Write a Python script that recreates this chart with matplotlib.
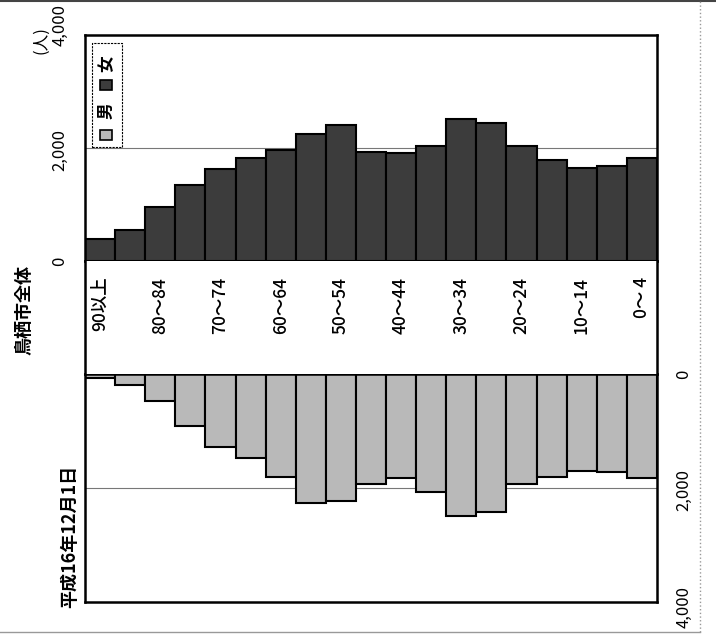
import matplotlib
matplotlib.use("Agg")
import matplotlib.pyplot as plt
from matplotlib.patches import Rectangle
from matplotlib.lines import Line2D
import numpy as np

plt.rcParams['font.family'] = ['Noto Sans CJK JP', 'DejaVu Sans']

# age groups, oldest first (left to right in the picture)
ages = ['90以上', '85～89', '80～84', '75～79', '70～74', '65～69', '60～64',
        '55～59', '50～54', '45～49', '40～44', '35～39', '30～34', '25～29',
        '20～24', '15～19', '10～14', '5～ 9', '0～ 4']
shown = ['90以上', '80～84', '70～74', '60～64', '50～54', '40～44',
         '30～34', '20～24', '10～14', '0～ 4']
female = [390, 550, 960, 1345, 1630, 1825, 1965, 2250, 2405, 1930, 1910,
          2035, 2510, 2440, 2035, 1790, 1645, 1680, 1825]
male = [70, 195, 480, 920, 1275, 1470, 1805, 2265, 2230, 1930, 1825,
        2070, 2495, 2425, 1930, 1805, 1700, 1715, 1825]
ticks = [0, 2000, 4000]
tick_labels = ['0', '2,000', '4,000']

W, H = 716, 638
fig = plt.figure(figsize=(W / 100, H / 100), dpi=100)

def box(l, t, r, b):
    return [l / W, 1 - b / H, (r - l) / W, (b - t) / H]

def ftext(px, py, s, **kw):
    fig.text(px / W, 1 - py / H, s, rotation=90, ha='center', va='center', **kw)

x = np.arange(len(ages))
dark = '#3c3c3c'
light = '#b9b9b9'

# women (top)
ax_f = fig.add_axes(box(85, 35, 657, 261))
ax_f.axhline(2000, color='#777777', lw=0.8, zorder=0)
ax_f.bar(x, female, width=1.0, color=dark, edgecolor='black', lw=1.5, zorder=2)
ax_f.set_xlim(-0.5, len(ages) - 0.5)
ax_f.set_ylim(0, 4000)
ax_f.set_xticks([])
ax_f.set_yticks([])
for s in ax_f.spines.values():
    s.set_linewidth(1.8)

# men (bottom)
ax_m = fig.add_axes(box(85, 374, 657, 602))
ax_m.axhline(2000, color='#777777', lw=0.8, zorder=0)
ax_m.bar(x, male, width=1.0, color=light, edgecolor='black', lw=1.5, zorder=2)
ax_m.set_xlim(-0.5, len(ages) - 0.5)
ax_m.set_ylim(4000, 0)
ax_m.set_xticks([])
ax_m.set_yticks([])
for s in ax_m.spines.values():
    s.set_linewidth(1.8)

# value labels, placed by hand like the original scan
for py, lab in zip([261, 150, 25], tick_labels):
    ftext(60, py, lab, fontsize=12)
for py, lab in zip([374, 490, 607], tick_labels):
    ftext(684, py, lab, fontsize=12)

# age labels band
ax_a = fig.add_axes(box(85, 261, 657, 374))
ax_a.set_xlim(-0.5, len(ages) - 0.5)
ax_a.set_ylim(0, 1)
ax_a.set_xticks([])
ax_a.set_yticks([])
for s in ['top', 'bottom']:
    ax_a.spines[s].set_visible(False)
for s in ['left', 'right']:
    ax_a.spines[s].set_linewidth(1.8)
for i, a in enumerate(ages):
    if a in shown:
        ax_a.text(i, 0.86, a, rotation=90, ha='center', va='top', fontsize=12.5,
                  fontweight='medium')

# titles
ftext(24, 310, '鳥栖市全体', fontsize=13, fontweight='bold')
ftext(70, 536, '平成16年12月1日', fontsize=13, fontweight='bold')
ftext(41, 40, '(人)', fontsize=12)

# legend, drawn rotated like the rest of the chart
ax_f.add_patch(Rectangle((0.012, 0.505), 0.052, 0.46, transform=ax_f.transAxes,
                         fill=False, ls=(0, (2, 1)), lw=0.8, ec='black', zorder=3))
ax_f.add_patch(Rectangle((0.027, 0.535), 0.02, 0.045, transform=ax_f.transAxes,
                         fc=light, ec='black', lw=1.2, zorder=3))
ax_f.text(0.038, 0.665, '男', transform=ax_f.transAxes, rotation=90,
          ha='center', va='center', fontsize=12, fontweight='bold', zorder=3)
ax_f.add_patch(Rectangle((0.027, 0.755), 0.02, 0.045, transform=ax_f.transAxes,
                         fc=dark, ec='black', lw=1.2, zorder=3))
ax_f.text(0.038, 0.875, '女', transform=ax_f.transAxes, rotation=90,
          ha='center', va='center', fontsize=12, fontweight='bold', zorder=3)

# outer page border
fig.add_artist(Line2D([0, 1], [0.998, 0.998], color='#444444', lw=1.5))
fig.add_artist(Line2D([700 / W, 700 / W], [1 - 632 / H, 1], color='#999999',
                      lw=1.0, ls=':'))
fig.add_artist(Line2D([0, 700 / W], [1 - 632 / H, 1 - 632 / H], color='#999999',
                      lw=1.0))

fig.savefig('out.png', dpi=100)
